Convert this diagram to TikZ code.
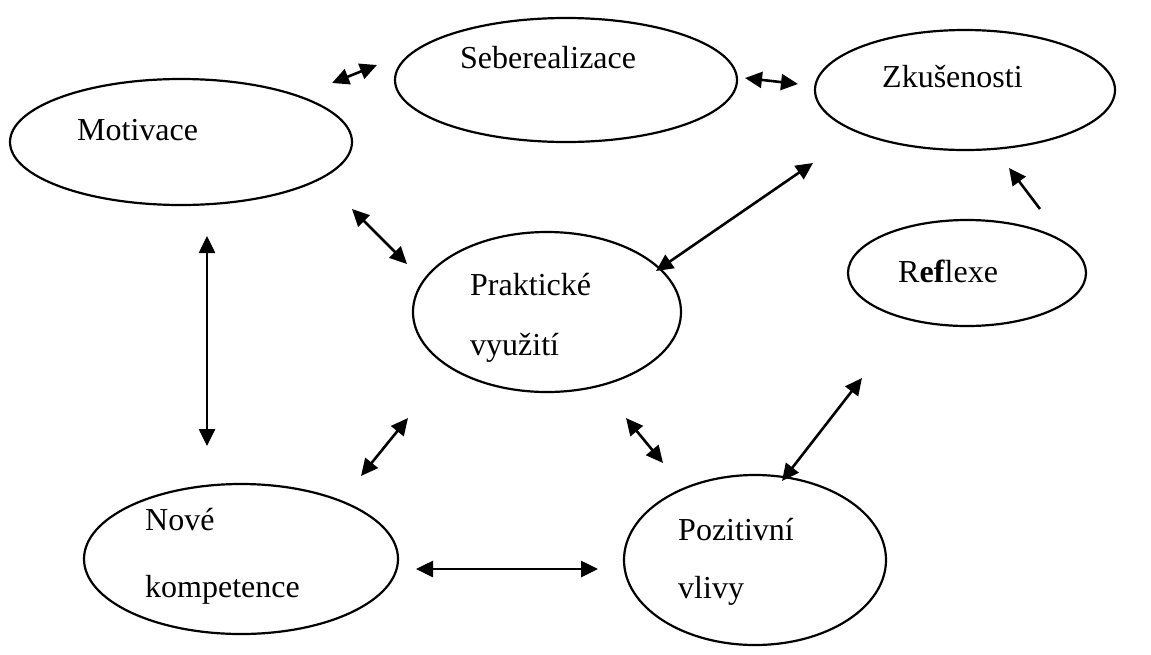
\documentclass[tikz,border=0pt]{standalone}
\usepackage{fontspec}
\setmainfont{Liberation Serif}
\usetikzlibrary{shapes.geometric,arrows.meta}
\begin{document}
\begin{tikzpicture}[x=1pt,y=-1pt,
  oval/.style={draw,ellipse,line width=2.2pt,inner sep=0pt},
  lbl/.style={anchor=base west,inner sep=0pt,font=\fontsize{32}{38}\selectfont},
  dbl/.style={line width=2.6pt,{Triangle[length=17pt,width=16pt]}-{Triangle[length=17pt,width=16pt]}},
  sgl/.style={line width=2.6pt,-{Triangle[length=17pt,width=16pt]}}]
\useasboundingbox (0,0) rectangle (1151,654);
% ellipses
\node[oval,minimum width=342pt,minimum height=124pt] (seb) at (566,80) {};
\node[oval,minimum width=300pt,minimum height=120pt] (zku) at (965,90) {};
\node[oval,minimum width=342pt,minimum height=126pt] (mot) at (181,142) {};
\node[oval,minimum width=268pt,minimum height=160pt] (pra) at (547,312) {};
\node[oval,minimum width=238pt,minimum height=106pt] (ref) at (967,273) {};
\node[oval,minimum width=314pt,minimum height=150pt] (nov) at (241,559) {};
\node[oval,minimum width=262pt,minimum height=170pt] (poz) at (755,560) {};
% labels
\node[lbl] (tseb) at (460,68) {Seberealizace};
\node[lbl] (tzku) at (882,87) {Zkušenosti};
\node[lbl] (tmot) at (77,140) {Motivace};
\node[lbl] (tpra1) at (470,295) {Praktické};
\node[lbl] (tpra2) at (470,355) {využití};
\node[lbl] (tref) at (898,282) {R\textbf{ef}lexe};
\node[lbl] (tnov1) at (145,530) {Nové};
\node[lbl] (tnov2) at (145,597) {kompetence};
\node[lbl] (tpoz1) at (678,540) {Pozitivní};
\node[lbl] (tpoz2) at (678,598) {vlivy};
% arrow end points
\coordinate (a1) at (332,83);  \coordinate (b1) at (377,65);
\coordinate (a2) at (745,78);  \coordinate (b2) at (798,84);
\coordinate (a3) at (1040,209);\coordinate (b3) at (1009,168);
\coordinate (a4) at (352,209); \coordinate (b4) at (407,264);
\coordinate (a5) at (813,163); \coordinate (b5) at (656,271);
\coordinate (a6) at (207,236); \coordinate (b6) at (207,446);
\coordinate (a7) at (408,418); \coordinate (b7) at (361,476);
\coordinate (a8) at (626,418); \coordinate (b8) at (663,463);
\coordinate (a9) at (862,378); \coordinate (b9) at (782,481);
\coordinate (a10) at (416,569);\coordinate (b10) at (598,569);
% connectors
\draw[dbl] (a1) -- (b1);
\draw[dbl] (a2) -- (b2);
\draw[sgl] (a3) -- (b3);
\draw[dbl] (a4) -- (b4);
\draw[dbl] (a5) -- (b5);
\draw[dbl] (a6) -- (b6);
\draw[dbl] (a7) -- (b7);
\draw[dbl] (a8) -- (b8);
\draw[dbl] (a9) -- (b9);
\draw[dbl] (a10) -- (b10);
\end{tikzpicture}
\end{document}
